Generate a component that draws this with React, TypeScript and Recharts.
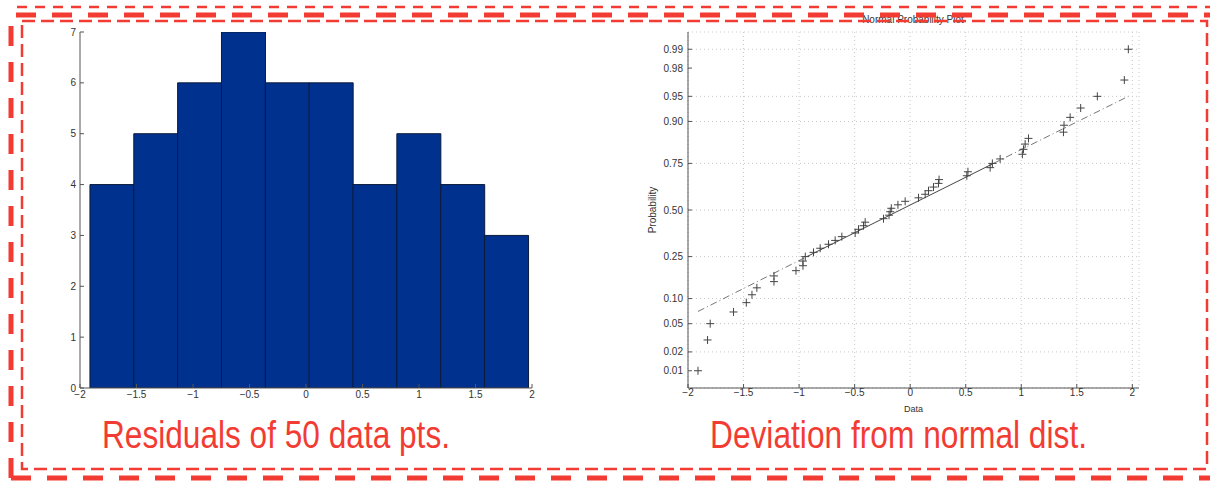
import React from 'react';
import {
  ComposedChart,
  Bar,
  Scatter,
  XAxis,
  YAxis,
  CartesianGrid,
  ReferenceLine,
} from 'recharts';

// Histogram of residuals: bin centres and counts
const binCenters = [-1.718, -1.33, -0.942, -0.554, -0.166, 0.222, 0.61, 0.998, 1.386, 1.774];
const binCounts = [4, 5, 6, 7, 6, 6, 4, 5, 4, 3];
const histXTicks = [-2, -1.5, -1, -0.5, 0, 0.5, 1, 1.5, 2];
const histYTicks = [0, 1, 2, 3, 4, 5, 6, 7];

// Sorted residuals and their plotting positions on the normal probability plot
const residuals = [
  -1.91, -1.824, -1.8, -1.59, -1.475, -1.424, -1.38, -1.226, -1.226, -1.028,
  -0.965, -0.965, -0.944, -0.87, -0.81, -0.735, -0.675, -0.615, -0.495, -0.465,
  -0.42, -0.405, -0.24, -0.19, -0.18, -0.17, -0.11, -0.045, 0.075, 0.135,
  0.165, 0.21, 0.255, 0.26, 0.51, 0.52, 0.72, 0.74, 0.81, 1.01,
  1.02, 1.035, 1.065, 1.38, 1.385, 1.44, 1.535, 1.685, 1.928, 1.964,
];
const plotPositions = [
  0.01, 0.03, 0.05, 0.07, 0.09, 0.11, 0.13, 0.15, 0.17, 0.19,
  0.21, 0.23, 0.25, 0.27, 0.29, 0.31, 0.33, 0.35, 0.37, 0.39,
  0.41, 0.43, 0.45, 0.47, 0.49, 0.51, 0.53, 0.55, 0.57, 0.59,
  0.61, 0.63, 0.65, 0.67, 0.69, 0.71, 0.73, 0.75, 0.77, 0.79,
  0.81, 0.83, 0.85, 0.87, 0.89, 0.91, 0.93, 0.95, 0.97, 0.99,
];
const probTicks = [0.01, 0.02, 0.05, 0.1, 0.25, 0.5, 0.75, 0.9, 0.95, 0.98, 0.99];
const probLabels = ['0.01', '0.02', '0.05', '0.10', '0.25', '0.50', '0.75', '0.90', '0.95', '0.98', '0.99'];
const probXTicks = [-2, -1.5, -1, -0.5, 0, 0.5, 1, 1.5, 2];

// Reference line through the quartiles: [start, q1, q3, end]
const fitX = [-1.91, -0.93, 0.75, 1.964];
const fitP = [0.071, 0.25, 0.75, 0.95];

const RED = '#f23c33';
const AXIS = '#555';
const TICK_FONT = { fontSize: 10, fill: '#333', fontFamily: 'Liberation Sans, Arial, sans-serif' };

// inverse standard normal CDF (Acklam) - used for the probability axis
function probToZ(p: number): number {
  const a = [-39.69683028665376, 220.9460984245205, -275.9285104469687, 138.357751867269, -30.66479806614716, 2.506628277459239];
  const b = [-54.47609879822406, 161.5858368580409, -155.6989798598866, 66.80131188771972, -13.28068155288572];
  const c = [-0.007784894002430293, -0.3223964580411365, -2.400758277161838, -2.549732539343734, 4.374664141464968, 2.938163982698783];
  const d = [0.007784695709041462, 0.3224671290700398, 2.445134137142996, 3.754408661907416];
  const lo = 0.02425;
  if (p < lo) {
    const q = Math.sqrt(-2 * Math.log(p));
    return (((((c[0] * q + c[1]) * q + c[2]) * q + c[3]) * q + c[4]) * q + c[5]) /
      ((((d[0] * q + d[1]) * q + d[2]) * q + d[3]) * q + 1);
  }
  if (p > 1 - lo) return -probToZ(1 - p);
  const q = p - 0.5;
  const r = q * q;
  return (((((a[0] * r + a[1]) * r + a[2]) * r + a[3]) * r + a[4]) * r + a[5]) * q /
    (((((b[0] * r + b[1]) * r + b[2]) * r + b[3]) * r + b[4]) * r + 1);
}

const fmtMinus = (v: number) => String(v).replace('-', '\u2212');

const histData = binCenters.map((x, i) => ({ x, count: binCounts[i] }));
const probData = residuals.map((x, i) => ({ x, z: probToZ(plotPositions[i]) }));
const zTicks = probTicks.map(probToZ);
const zLabel = (v: number) => {
  const i = zTicks.findIndex((t) => Math.abs(t - v) < 1e-6);
  return i >= 0 ? probLabels[i] : '';
};
const fit = fitX.map((x, i) => ({ x, y: probToZ(fitP[i]) }));

const PlusMarker = (props: any) => {
  const { cx, cy } = props;
  if (cx == null || cy == null) return null;
  return (
    <path
      d={`M${cx - 4},${cy}h8M${cx},${cy - 4}v8`}
      stroke="#444"
      strokeWidth={1}
      fill="none"
    />
  );
};

const Histogram = () => (
  <ComposedChart
    width={600}
    height={420}
    data={histData}
    margin={{ top: 32, right: 68, bottom: 12, left: 50 }}
    barCategoryGap={0}
    barGap={0}
  >
    <XAxis
      dataKey="x"
      type="number"
      domain={[-2, 2]}
      ticks={histXTicks}
      tickFormatter={fmtMinus}
      tick={TICK_FONT}
      tickSize={-4}
      tickMargin={7}
      stroke={AXIS}
      height={20}
      allowDataOverflow
    />
    <XAxis
      xAxisId="top"
      orientation="top"
      type="number"
      domain={[-2, 2]}
      ticks={histXTicks}
      tick={false}
      tickSize={-4}
      stroke={AXIS}
      height={0}
      allowDataOverflow
    />
    <YAxis
      type="number"
      domain={[0, 7]}
      ticks={histYTicks}
      tick={TICK_FONT}
      tickSize={-4}
      tickMargin={8}
      stroke={AXIS}
      width={30}
      allowDataOverflow
    />
    <YAxis
      yAxisId="right"
      orientation="right"
      type="number"
      domain={[0, 7]}
      ticks={histYTicks}
      tick={false}
      tickSize={-4}
      stroke={AXIS}
      width={0}
      allowDataOverflow
    />
    <Bar
      dataKey="count"
      fill="#00318f"
      stroke="#0a1a3a"
      strokeWidth={1}
      isAnimationActive={false}
    />
  </ComposedChart>
);

const ProbabilityPlot = () => (
  <ComposedChart
    width={600}
    height={430}
    margin={{ top: 32, right: 61, bottom: 12, left: 48 }}
  >
    <CartesianGrid stroke="#c8c8c8" strokeDasharray="1 3" />
    <XAxis
      dataKey="x"
      type="number"
      domain={[-2, 2.06]}
      ticks={probXTicks}
      tickFormatter={fmtMinus}
      tick={TICK_FONT}
      tickSize={-4}
      tickMargin={5}
      stroke={AXIS}
      height={30}
      allowDataOverflow
      label={{ value: 'Data', position: 'insideBottom', offset: 6, ...TICK_FONT, fontSize: 9 }}
    />
    <XAxis
      xAxisId="top"
      orientation="top"
      type="number"
      domain={[-2, 2.06]}
      ticks={probXTicks}
      tick={false}
      tickSize={-4}
      stroke={AXIS}
      height={0}
      allowDataOverflow
    />
    <YAxis
      dataKey="z"
      type="number"
      domain={[-2.576, 2.576]}
      ticks={zTicks}
      tickFormatter={zLabel}
      tick={TICK_FONT}
      tickSize={-4}
      tickMargin={9}
      stroke={AXIS}
      width={40}
      allowDataOverflow
      label={{ value: 'Probability', angle: -90, position: 'insideLeft', offset: 4, style: { textAnchor: 'middle' }, ...TICK_FONT }}
    />
    <YAxis
      yAxisId="right"
      orientation="right"
      type="number"
      domain={[-2.576, 2.576]}
      ticks={zTicks}
      tick={false}
      tickSize={-4}
      stroke={AXIS}
      width={0}
      allowDataOverflow
    />
    <ReferenceLine
      segment={[fit[0], fit[1]]}
      stroke="#777"
      strokeDasharray="7 3 1 3"
    />
    <ReferenceLine segment={[fit[1], fit[2]]} stroke="#444" />
    <ReferenceLine
      segment={[fit[2], fit[3]]}
      stroke="#777"
      strokeDasharray="7 3 1 3"
    />
    <Scatter data={probData} dataKey="z" shape={<PlusMarker />} isAnimationActive={false} />
  </ComposedChart>
);

export default function App() {
  return (
    <div
      style={{
        position: 'absolute',
        left: 0,
        top: 0,
        width: 1210,
        height: 482,
        background: '#fff',
        overflow: 'hidden',
      }}
    >
      <div style={{ position: 'absolute', left: 0, top: 0 }}>
        <Histogram />
      </div>
      <div style={{ position: 'absolute', left: 600, top: 0 }}>
        <ProbabilityPlot />
      </div>
      <svg
        width={1210}
        height={482}
        style={{ position: 'absolute', left: 0, top: 0, pointerEvents: 'none' }}
      >
        <text x={913} y={23} textAnchor="middle" fontSize={10} fill="#333" fontFamily="Liberation Sans, Arial, sans-serif">
          Normal Probability Plot
        </text>
        <text
          x={102}
          y={448}
          fontSize={38}
          fill={RED}
          textLength={348}
          lengthAdjust="spacingAndGlyphs"
          fontFamily="Liberation Sans Narrow, Arial Narrow, Liberation Sans, sans-serif"
        >
          Residuals of 50 data pts.
        </text>
        <text
          x={710}
          y={448}
          fontSize={38}
          fill={RED}
          textLength={377}
          lengthAdjust="spacingAndGlyphs"
          fontFamily="Liberation Sans Narrow, Arial Narrow, Liberation Sans, sans-serif"
        >
          Deviation from normal dist.
        </text>
        {/* frame around the slide */}
        <g fill="none" stroke={RED}>
          <line x1={17} y1={7} x2={1210} y2={7} strokeWidth={2.5} strokeDasharray="10 8" />
          <path d="M11,478 V15 H1216 M11,478 H1216" strokeWidth={5} strokeDasharray="20 16" />
          <rect x={22} y={21} width={1185} height={448} strokeWidth={2.5} strokeDasharray="13 6" />
        </g>
      </svg>
    </div>
  );
}
